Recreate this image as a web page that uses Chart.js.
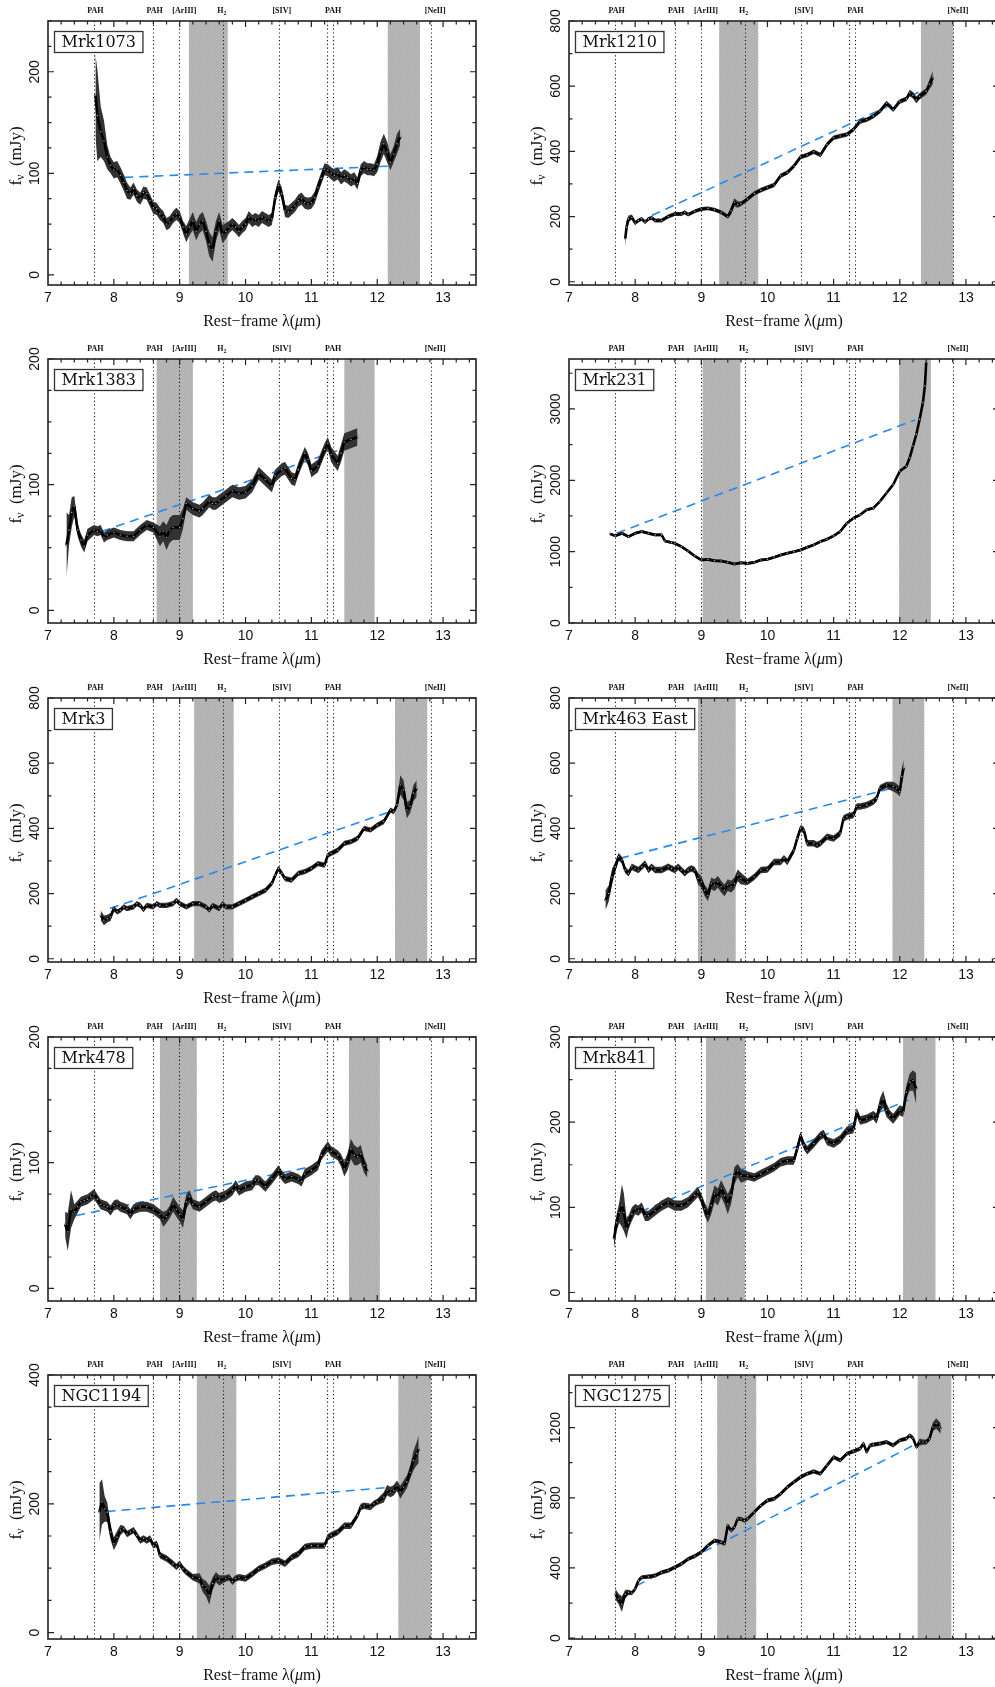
<!DOCTYPE html>
<html>
<head>
<meta charset="utf-8">
<script src="https://cdn.jsdelivr.net/npm/chart.js@4.4.1/dist/chart.umd.min.js"></script>
<style>
  html, body { margin: 0; padding: 0; background: #fff; overflow: hidden; }
  body { width: 995px; height: 1687px; position: relative; }
  canvas { position: absolute; }
</style>
</head>
<body>
<script>
// emission / PAH feature positions (micron) and their labels along the top
const lineWaves = [7.7, 8.6, 8.99, 9.66, 10.51, 11.23, 11.33, 12.81];
const lineLabels = ['PAH', 'PAH', '[ArIII]', 'H2', '[SIV]', 'PAH', '[NeII]'];
const lineLabelPos = [7.72, 8.62, 9.07, 9.64, 10.55, 11.33, 12.88];

// ---- Mrk1073
const mrk1073Wave = [7.72, 7.75, 7.8, 7.85, 7.9, 7.95, 8.0, 8.05, 8.1, 8.15, 8.2, 8.25, 8.3, 8.35, 8.4, 8.45, 8.5, 8.55, 8.6, 8.65,
  8.7, 8.75, 8.8, 8.85, 8.9, 8.95, 9.0, 9.05, 9.1, 9.15, 9.2, 9.25, 9.3, 9.35, 9.4, 9.45, 9.5, 9.55, 9.6, 9.65,
  9.7, 9.75, 9.8, 9.85, 9.9, 9.95, 10.0, 10.05, 10.1, 10.15, 10.2, 10.25, 10.3, 10.35, 10.4, 10.45, 10.5, 10.55, 10.6, 10.65,
  10.7, 10.75, 10.8, 10.85, 10.9, 10.95, 11.0, 11.05, 11.1, 11.15, 11.2, 11.25, 11.3, 11.35, 11.4, 11.45, 11.5, 11.55, 11.6, 11.65,
  11.7, 11.75, 11.8, 11.85, 11.9, 11.95, 12.0, 12.05, 12.1, 12.15, 12.2, 12.25, 12.3, 12.35];
const mrk1073Flux = [177, 157, 141, 132, 116, 108, 103, 104, 98, 91, 83, 80, 85, 78, 75, 81, 80, 73, 66, 65,
  60, 57, 50, 52, 57, 60, 57, 47, 40, 47, 53, 43, 50, 53, 43, 30, 25, 43, 53, 40,
  43, 47, 50, 47, 43, 47, 50, 57, 53, 55, 53, 57, 55, 53, 55, 76, 88, 80, 63, 62,
  65, 68, 73, 75, 71, 70, 71, 76, 86, 95, 104, 103, 100, 98, 100, 95, 98, 96, 93, 95,
  90, 103, 106, 104, 104, 103, 109, 121, 129, 121, 111, 119, 129, 136];
const mrk1073Err = [40, 45, 25, 20, 12, 8, 8, 8, 8, 8, 8,
  6, 6, 6, 6, 6, 6, 6, 6, 6, 6, 6, 6, 6, 6, 6, 6, 6,
  8, 8, 9, 9, 9, 9, 10, 12, 12, 10, 9, 9, 8,
  6, 6, 6, 6, 6, 6, 6, 6, 6, 6, 6, 6, 6, 6, 6, 6, 6, 6, 6, 6, 6, 6, 6, 6, 6, 6, 6, 6, 6, 6,
  6, 6, 6, 6, 6, 6, 6, 6, 6, 6, 6, 6, 6, 6, 6,
  8, 10, 10, 10, 8, 8, 10, 8];
const mrk1073Cont = [[8.16, 96], [12.16, 107]];
const mrk1073Bands = [[9.14, 9.73], [12.16, 12.65]];

// ---- Mrk1210
const mrk1210Wave = [7.85, 7.87, 7.9, 7.95, 8.0, 8.05, 8.1, 8.15, 8.2, 8.25, 8.3, 8.4, 8.5, 8.6, 8.7, 8.75, 8.8, 8.9, 9.0, 9.1,
  9.2, 9.3, 9.4, 9.45, 9.5, 9.55, 9.6, 9.7, 9.8, 9.9, 10.0, 10.1, 10.2, 10.3, 10.4, 10.5, 10.6, 10.7, 10.8, 10.9,
  11.0, 11.1, 11.2, 11.3, 11.4, 11.5, 11.6, 11.7, 11.8, 11.9, 12.0, 12.1, 12.15, 12.2, 12.25, 12.3, 12.4, 12.45, 12.5];
const mrk1210Flux = [132, 167, 193, 198, 180, 188, 193, 183, 193, 196, 188, 188, 200, 208, 208, 213, 206, 216, 223, 225,
  221, 213, 200, 218, 244, 237, 239, 254, 271, 281, 289, 297, 325, 335, 355, 383, 389, 399, 389, 421,
  442, 447, 452, 467, 492, 497, 508, 523, 548, 528, 553, 561, 579, 572, 558, 569, 584, 606, 626];
const mrk1210Err = [25, 20, 10, 8,
  6, 6, 6, 6, 6, 6, 6, 6, 6, 6, 6, 6, 6, 6, 6, 6, 6, 6, 6,
  12, 12, 10,
  7, 7, 7, 7, 7, 7, 7, 7, 7, 7, 7, 7, 7, 7, 7, 7, 7, 7, 7, 7, 7, 7, 7, 7, 7, 7,
  10, 10, 10, 10, 10, 15, 20];
const mrk1210Cont = [[8.25, 203], [12.33, 586]];
const mrk1210Bands = [[9.27, 9.86], [12.32, 12.81]];

// ---- Mrk1383
const mrk1383Wave = [7.28, 7.32, 7.36, 7.4, 7.45, 7.5, 7.55, 7.6, 7.7, 7.75, 7.8, 7.85, 7.9, 8.0, 8.1, 8.2, 8.3, 8.4, 8.5, 8.6,
  8.7, 8.75, 8.8, 8.85, 8.9, 9.0, 9.05, 9.1, 9.2, 9.3, 9.35, 9.45, 9.5, 9.55, 9.6, 9.7, 9.8, 9.9, 10.0, 10.1,
  10.2, 10.3, 10.4, 10.45, 10.55, 10.6, 10.7, 10.75, 10.8, 10.9, 10.95, 11.0, 11.1, 11.2, 11.25, 11.3, 11.4, 11.45, 11.5, 11.6, 11.7];
const mrk1383Flux = [52, 64, 78, 83, 64, 56, 51, 60, 64, 63, 64, 58, 60, 62, 60, 59, 59, 64, 68, 66,
  59, 63, 58, 64, 66, 66, 73, 85, 81, 79, 81, 87, 85, 85, 87, 91, 95, 93, 94, 99,
  109, 104, 99, 107, 112, 113, 105, 104, 112, 125, 120, 111, 115, 128, 133, 124, 117, 125, 134, 136, 138];
const mrk1383Err = [26, 12, 12, 8, 5, 5, 5, 5,
  4, 4, 4, 4, 4, 4, 4, 4, 4, 4, 4, 4,
  8, 8, 10, 10, 10, 10, 8,
  5, 5, 5, 5, 5, 5, 5, 5, 5, 5, 5, 5, 5, 5, 5, 5, 5, 5, 5, 5, 5, 5, 5, 5, 5, 5, 5, 5,
  6, 6, 7, 7, 7, 7];
const mrk1383Cont = [[7.6, 59], [11.5, 129]];
const mrk1383Bands = [[8.65, 9.2], [11.5, 11.96]];

// ---- Mrk231
const mrk231Wave = [7.62, 7.7, 7.8, 7.9, 8.0, 8.1, 8.2, 8.3, 8.4, 8.45, 8.55, 8.6, 8.7, 8.8, 8.9, 9.0, 9.1, 9.2, 9.3, 9.4,
  9.5, 9.6, 9.7, 9.8, 9.9, 10.0, 10.1, 10.2, 10.3, 10.4, 10.5, 10.6, 10.7, 10.8, 10.9, 11.0, 11.1, 11.2, 11.3, 11.4,
  11.5, 11.6, 11.7, 11.8, 11.9, 12.0, 12.1, 12.15, 12.2, 12.25, 12.3, 12.35, 12.38, 12.4];
const mrk231Flux = [1249, 1221, 1258, 1211, 1258, 1282, 1258, 1235, 1235, 1150, 1127, 1117, 1070, 1009, 939, 883, 892, 873, 869, 850,
  826, 845, 836, 850, 883, 892, 920, 953, 977, 1000, 1023, 1061, 1094, 1141, 1174, 1221, 1282, 1399, 1469, 1516,
  1587, 1610, 1704, 1822, 1939, 2127, 2197, 2315, 2479, 2643, 2854, 3089, 3324, 3653];
const mrk231Err = [20, 20, 20, 20, 20, 20, 20, 20, 20, 20, 20, 20, 20, 20, 20, 20, 20, 20, 20, 20,
  20, 20, 20, 20, 20, 20, 20, 20, 20, 20, 20, 20, 20, 20, 20, 20, 20, 20, 20, 20,
  20, 20, 20, 20, 20, 20, 20, 20, 20, 20, 40, 60, 80, 120];
const mrk231Cont = [[7.72, 1258], [12.23, 2845]];
const mrk231Bands = [[9.02, 9.59], [11.99, 12.47]];

// ---- Mrk3
const mrk3Wave = [7.8, 7.85, 7.9, 7.95, 8.0, 8.05, 8.1, 8.15, 8.2, 8.3, 8.35, 8.4, 8.45, 8.5, 8.6, 8.65, 8.7, 8.8, 8.9, 8.95,
  9.0, 9.1, 9.2, 9.3, 9.4, 9.45, 9.5, 9.6, 9.65, 9.7, 9.8, 9.9, 10.0, 10.1, 10.2, 10.3, 10.4, 10.45, 10.5, 10.55,
  10.6, 10.7, 10.8, 10.9, 11.0, 11.1, 11.2, 11.25, 11.3, 11.4, 11.5, 11.6, 11.7, 11.8, 11.9, 12.0, 12.1, 12.2, 12.25, 12.3,
  12.35, 12.4, 12.45, 12.5, 12.55, 12.6];
const mrk3Flux = [133, 118, 123, 128, 154, 144, 149, 159, 154, 159, 169, 164, 151, 164, 159, 169, 164, 164, 169, 179,
  169, 159, 169, 169, 159, 149, 164, 154, 169, 159, 159, 169, 179, 190, 200, 210, 231, 256, 277, 262,
  246, 241, 262, 267, 277, 292, 287, 318, 323, 333, 354, 359, 369, 400, 395, 410, 421, 456, 451, 472,
  533, 518, 456, 467, 508, 523];
const mrk3Err = [15, 15, 12, 12,
  8, 8, 8, 8, 8, 8, 8, 8, 8, 8, 8, 8, 8, 8, 8, 8, 8, 8, 8, 8, 8, 8, 8, 8,
  8, 8, 8, 8, 8, 8, 8, 8, 8, 8, 8, 8, 8, 8, 8, 8, 8, 8, 8, 8, 8, 8, 8, 8,
  8, 8, 8, 8, 8, 8, 8, 8,
  30, 30, 25, 20, 25, 25];
const mrk3Cont = [[7.94, 154], [12.19, 451]];
const mrk3Bands = [[9.22, 9.82], [12.27, 12.76]];

// ---- Mrk463 East
const mrk463Wave = [7.55, 7.6, 7.65, 7.7, 7.75, 7.8, 7.85, 7.9, 7.95, 8.0, 8.05, 8.1, 8.15, 8.2, 8.25, 8.3, 8.4, 8.5,
  8.55, 8.6, 8.65, 8.7, 8.75, 8.8, 8.85, 8.9, 8.95, 9.0, 9.05, 9.1, 9.15, 9.2, 9.25, 9.3, 9.35, 9.4, 9.45, 9.5, 9.55, 9.6,
  9.7, 9.8, 9.9, 10.0, 10.1, 10.2, 10.25, 10.3, 10.4, 10.45, 10.5, 10.55, 10.6, 10.7, 10.75, 10.8, 10.9, 11.0, 11.1, 11.15,
  11.2, 11.3, 11.35, 11.4, 11.5, 11.6, 11.65, 11.7, 11.8, 11.9, 11.95, 12.0, 12.03, 12.06];
const mrk463Flux = [179, 200, 251, 282, 313, 303, 272, 262, 282, 277, 272, 282, 292, 272, 282, 272, 272, 282,
  277, 272, 282, 272, 262, 272, 277, 272, 246, 236, 210, 195, 231, 226, 236, 221, 210, 226, 221, 231, 256, 246,
  236, 251, 272, 274, 297, 297, 308, 297, 333, 369, 400, 395, 354, 354, 349, 354, 374, 369, 385, 431,
  436, 441, 467, 467, 472, 482, 492, 523, 533, 528, 523, 513, 559, 585];
const mrk463Err = [30, 25, 25, 15, 12,
  10, 10, 10, 10, 10, 10, 10, 10, 10, 10, 10, 10, 10, 10, 10, 10, 10, 10, 10, 10, 10,
  18, 18, 18, 18, 18, 18, 18, 18, 18, 18, 18, 18, 18, 18,
  10, 10, 10, 10, 10, 10, 10, 10, 10, 10, 10, 10, 10, 10, 10, 10, 10, 10, 10, 10,
  10, 10, 10, 10, 10, 10, 10, 10, 10,
  15, 15, 15, 25, 25];
const mrk463Cont = [[7.77, 308], [11.9, 524]];
const mrk463Bands = [[8.95, 9.52], [11.89, 12.37]];

// ---- Mrk478
const mrk478Wave = [7.26, 7.3, 7.35, 7.4, 7.45, 7.5, 7.55, 7.6, 7.65, 7.7, 7.75, 7.8, 7.85, 7.9, 7.95, 8.0, 8.05, 8.1, 8.2, 8.25,
  8.3, 8.4, 8.5, 8.6, 8.7, 8.75, 8.8, 8.85, 8.9, 8.95, 9.0, 9.05, 9.1, 9.15, 9.2, 9.3, 9.4, 9.5, 9.55, 9.6,
  9.7, 9.8, 9.85, 9.9, 10.0, 10.1, 10.15, 10.2, 10.3, 10.4, 10.5, 10.55, 10.6, 10.7, 10.8, 10.85, 10.9, 11.0, 11.1, 11.15,
  11.25, 11.3, 11.4, 11.45, 11.5, 11.55, 11.6, 11.65, 11.7, 11.75, 11.8, 11.85];
const mrk478Flux = [51, 45, 63, 61, 65, 69, 70, 71, 73, 75, 71, 67, 66, 65, 62, 66, 67, 65, 63, 59,
  63, 65, 65, 63, 59, 55, 57, 61, 67, 63, 59, 55, 69, 73, 67, 65, 69, 73, 74, 72,
  74, 78, 82, 78, 81, 82, 86, 86, 81, 87, 94, 90, 87, 89, 87, 85, 91, 94, 98, 106,
  113, 109, 106, 102, 95, 101, 111, 106, 105, 107, 98, 93];
const mrk478Err = [10, 15, 15, 6, 5,
  4, 4, 4, 4, 4, 4, 4, 4, 4, 4, 4, 4, 4, 4, 4, 4, 4, 4, 4, 4,
  6, 5, 5, 6, 6, 6, 7, 6, 5,
  4, 4, 4, 4, 4, 4, 4, 4, 4, 4, 4, 4, 4, 4, 4, 4, 4, 4, 4, 4, 4, 4, 4, 4, 4, 4, 4, 4, 4,
  5, 6, 7, 8, 8, 7, 7, 6, 5];
const mrk478Cont = [[7.43, 58], [11.56, 103]];
const mrk478Bands = [[8.7, 9.26], [11.57, 12.04]];

// ---- Mrk841
const mrk841Wave = [7.68, 7.72, 7.76, 7.8, 7.83, 7.87, 7.9, 7.95, 8.0, 8.05, 8.1, 8.15, 8.2, 8.3, 8.4, 8.5, 8.6, 8.7, 8.8, 8.9,
  8.95, 9.0, 9.05, 9.1, 9.15, 9.2, 9.25, 9.3, 9.35, 9.4, 9.45, 9.5, 9.55, 9.6, 9.7, 9.8, 9.9, 10.0, 10.1, 10.2,
  10.3, 10.4, 10.45, 10.5, 10.55, 10.6, 10.7, 10.8, 10.85, 10.9, 11.0, 11.1, 11.2, 11.3, 11.35, 11.4, 11.5, 11.6, 11.65, 11.7,
  11.75, 11.8, 11.85, 11.9, 12.0, 12.05, 12.1, 12.15, 12.2, 12.25];
const mrk841Flux = [63, 82, 94, 102, 94, 75, 82, 92, 98, 96, 100, 90, 90, 96, 102, 106, 102, 102, 106, 114,
  118, 110, 98, 90, 102, 116, 112, 122, 114, 104, 114, 137, 143, 137, 137, 135, 139, 143, 147, 153,
  155, 155, 169, 184, 173, 167, 175, 184, 186, 178, 175, 180, 190, 192, 212, 202, 204, 208, 204, 220,
  227, 214, 208, 204, 214, 212, 235, 247, 249, 239];
const mrk841Err = [12, 10, 12, 25, 22, 12, 8, 8,
  6, 6, 6, 6, 6, 6, 6, 6, 6, 6, 6, 6, 6, 6,
  8, 8, 10, 10, 10, 10, 10, 12, 10, 10, 8, 8,
  5, 5, 5, 5, 5, 5, 5, 5, 5, 5, 5, 5, 5, 5, 5, 5, 5, 5, 5, 5, 5, 5, 5, 5,
  6, 8, 10, 8, 6, 6, 6, 6,
  8, 10, 12, 18];
const mrk841Cont = [[7.87, 88], [12.13, 226]];
const mrk841Bands = [[9.07, 9.66], [12.05, 12.54]];

// ---- NGC1194
const ngc1194Wave = [7.78, 7.82, 7.86, 7.9, 7.95, 8.0, 8.05, 8.1, 8.15, 8.2, 8.25, 8.3, 8.35, 8.4, 8.45, 8.5, 8.55, 8.6, 8.65, 8.7,
  8.8, 8.9, 8.95, 9.0, 9.05, 9.1, 9.2, 9.3, 9.35, 9.4, 9.45, 9.5, 9.55, 9.6, 9.7, 9.75, 9.8, 9.85, 9.9, 10.0,
  10.1, 10.2, 10.3, 10.4, 10.5, 10.6, 10.7, 10.8, 10.9, 11.0, 11.1, 11.2, 11.25, 11.3, 11.4, 11.5, 11.6, 11.7, 11.75, 11.8,
  11.9, 11.95, 12.0, 12.1, 12.15, 12.2, 12.25, 12.3, 12.35, 12.4, 12.45, 12.5, 12.55, 12.6, 12.63];
const ngc1194Flux = [187, 203, 192, 187, 156, 138, 148, 159, 161, 153, 156, 159, 151, 143, 146, 143, 146, 135, 138, 120,
  115, 107, 102, 107, 99, 94, 86, 84, 73, 68, 58, 76, 86, 81, 84, 86, 79, 84, 86, 84,
  91, 99, 104, 110, 112, 107, 117, 122, 133, 135, 135, 135, 148, 151, 156, 166, 166, 182, 195, 197,
  195, 200, 203, 210, 221, 218, 221, 228, 218, 226, 234, 249, 267, 278, 285];
const ngc1194Err = [45, 35, 20, 15, 12, 10, 10, 8,
  5, 5, 5, 5, 5, 5, 5, 5, 5, 5, 5, 5, 5, 5, 5, 5, 5, 5, 5,
  8, 10, 12, 15, 10, 8, 8,
  5, 5, 5, 5, 5, 5, 5, 5, 5, 5, 5, 5, 5, 5, 5, 5, 5, 5, 5, 5, 5, 5, 5, 5, 5, 5, 5, 5, 5,
  8, 8, 8, 8, 8, 10, 10, 10, 10,
  15, 18, 22];
const ngc1194Cont = [[7.89, 188], [12.34, 227]];
const ngc1194Bands = [[9.26, 9.86], [12.32, 12.82]];

// ---- NGC1275
const ngc1275Wave = [7.7, 7.75, 7.8, 7.85, 7.9, 7.95, 8.0, 8.05, 8.1, 8.2, 8.3, 8.4, 8.5, 8.6, 8.7, 8.8, 8.9, 9.0, 9.1, 9.2,
  9.3, 9.35, 9.4, 9.45, 9.5, 9.55, 9.6, 9.65, 9.7, 9.8, 9.9, 10.0, 10.1, 10.2, 10.3, 10.4, 10.5, 10.6, 10.7, 10.8,
  10.9, 11.0, 11.1, 11.2, 11.3, 11.4, 11.45, 11.5, 11.55, 11.6, 11.7, 11.8, 11.9, 12.0, 12.1, 12.15, 12.2, 12.25, 12.3, 12.35,
  12.4, 12.45, 12.5, 12.55, 12.6, 12.62];
const ngc1275Flux = [251, 223, 194, 251, 261, 257, 280, 328, 347, 350, 356, 375, 385, 404, 423, 451, 467, 490, 528, 556,
  547, 537, 642, 613, 632, 680, 680, 670, 680, 718, 756, 785, 794, 823, 861, 890, 918, 937, 950, 937,
  985, 1032, 1013, 1051, 1065, 1080, 1109, 1061, 1099, 1103, 1109, 1118, 1099, 1128, 1137, 1156, 1141, 1090, 1118, 1118,
  1118, 1137, 1204, 1223, 1204, 1194];
const ngc1275Err = [30, 30, 45, 25, 15, 12,
  12, 12, 12, 12, 12, 12, 12, 12, 12, 12, 12, 12, 12, 12, 12, 12, 12, 12, 12, 12,
  12, 12, 12, 12, 12, 12, 12, 12, 12, 12, 12, 12, 12, 12, 12, 12, 12, 12, 12, 12,
  12, 12, 12, 12, 12, 12, 12, 12, 12, 12, 12, 12,
  20, 15, 15, 15, 25, 30, 30, 30];
const ngc1275Cont = [[8.02, 299], [12.23, 1103]];
const ngc1275Bands = [[9.24, 9.83], [12.27, 12.78]];

const panels = [
  { name: 'Mrk1073', wave: mrk1073Wave, flux: mrk1073Flux, err: mrk1073Err, cont: mrk1073Cont, bands: mrk1073Bands, yMin: -10, yMax: 250, yMajor: 100, yMinor: 25 },
  { name: 'Mrk1210', wave: mrk1210Wave, flux: mrk1210Flux, err: mrk1210Err, cont: mrk1210Cont, bands: mrk1210Bands, yMin: -10, yMax: 800, yMajor: 200, yMinor: 100 },
  { name: 'Mrk1383', wave: mrk1383Wave, flux: mrk1383Flux, err: mrk1383Err, cont: mrk1383Cont, bands: mrk1383Bands, yMin: -10, yMax: 200, yMajor: 100, yMinor: 25 },
  { name: 'Mrk231', wave: mrk231Wave, flux: mrk231Flux, err: mrk231Err, cont: mrk231Cont, bands: mrk231Bands, yMin: 0, yMax: 3700, yMajor: 1000, yMinor: 500 },
  { name: 'Mrk3', wave: mrk3Wave, flux: mrk3Flux, err: mrk3Err, cont: mrk3Cont, bands: mrk3Bands, yMin: -10, yMax: 800, yMajor: 200, yMinor: 100 },
  { name: 'Mrk463 East', wave: mrk463Wave, flux: mrk463Flux, err: mrk463Err, cont: mrk463Cont, bands: mrk463Bands, yMin: -10, yMax: 800, yMajor: 200, yMinor: 100 },
  { name: 'Mrk478', wave: mrk478Wave, flux: mrk478Flux, err: mrk478Err, cont: mrk478Cont, bands: mrk478Bands, yMin: -10, yMax: 200, yMajor: 100, yMinor: 25 },
  { name: 'Mrk841', wave: mrk841Wave, flux: mrk841Flux, err: mrk841Err, cont: mrk841Cont, bands: mrk841Bands, yMin: -10, yMax: 300, yMajor: 100, yMinor: 50 },
  { name: 'NGC1194', wave: ngc1194Wave, flux: ngc1194Flux, err: ngc1194Err, cont: ngc1194Cont, bands: ngc1194Bands, yMin: -10, yMax: 400, yMajor: 200, yMinor: 50 },
  { name: 'NGC1275', wave: ngc1275Wave, flux: ngc1275Flux, err: ngc1275Err, cont: ngc1275Cont, bands: ngc1275Bands, yMin: -5, yMax: 1500, yMajor: 400, yMinor: 200 }
];

// grey hatched tile for the masked wavelength ranges
const hatchTile = document.createElement('canvas');
hatchTile.width = 3; hatchTile.height = 3;
(function () {
  const g = hatchTile.getContext('2d');
  g.fillStyle = '#b9b9b9';
  g.fillRect(0, 0, 3, 3);
  g.strokeStyle = '#a9a9a9';
  g.lineWidth = 1;
  g.beginPath(); g.moveTo(-1, 4); g.lineTo(4, -1); g.stroke();
})();

const SERIF = '"Liberation Serif", "Times New Roman", serif';
const SANS = '"Liberation Sans", Arial, sans-serif';

// draw pieces of text one after the other, [text, font, baseline shift]
function drawRuns(ctx, runs, x, y) {
  let cx = x;
  runs.forEach(([t, font, dy]) => {
    ctx.font = font;
    ctx.fillText(t, cx, y + (dy || 0));
    cx += ctx.measureText(t).width;
  });
}
function runsWidth(ctx, runs) {
  let w = 0;
  runs.forEach(([t, font]) => { ctx.font = font; w += ctx.measureText(t).width; });
  return w;
}

const panelDecor = {
  id: 'panelDecor',
  beforeDatasetsDraw(chart, args, o) {
    const { ctx, chartArea: a, scales: { x } } = chart;
    ctx.save();
    ctx.beginPath();
    ctx.rect(a.left, a.top, a.width, a.height);
    ctx.clip();
    ctx.fillStyle = ctx.createPattern(hatchTile, 'repeat');
    o.bands.forEach(([b0, b1]) => {
      const x0 = x.getPixelForValue(b0), x1 = x.getPixelForValue(b1);
      ctx.fillRect(x0, a.top, x1 - x0, a.height);
    });
    ctx.strokeStyle = '#1a1a1a';
    ctx.lineWidth = 1.1;
    ctx.setLineDash([1.2, 2.6]);
    lineWaves.forEach(w => {
      const px = Math.round(x.getPixelForValue(w)) + 0.5;
      ctx.beginPath();
      ctx.moveTo(px, a.top);
      ctx.lineTo(px, a.bottom);
      ctx.stroke();
    });
    ctx.restore();
  },
  afterDatasetsDraw(chart, args, o) {
    const { ctx, chartArea: a, scales: { x, y } } = chart;
    ctx.save();

    // frame and inward ticks on all four sides
    ctx.strokeStyle = '#222';
    ctx.lineWidth = 1.6;
    ctx.strokeRect(a.left, a.top, a.width, a.height);
    ctx.lineWidth = 1.2;
    ctx.beginPath();
    for (let k = 36; k < 68; k++) {
      const px = x.getPixelForValue(k / 5), len = k % 5 === 0 ? 6 : 3.5;
      ctx.moveTo(px, a.bottom); ctx.lineTo(px, a.bottom - len);
      ctx.moveTo(px, a.top); ctx.lineTo(px, a.top + len);
    }
    for (let k = Math.ceil(y.min / o.yMinor); k * o.yMinor <= y.max; k++) {
      const v = k * o.yMinor, py = y.getPixelForValue(v), len = v % o.yMajor === 0 ? 6 : 3.5;
      ctx.moveTo(a.left, py); ctx.lineTo(a.left + len, py);
      ctx.moveTo(a.right, py); ctx.lineTo(a.right - len, py);
    }
    ctx.stroke();

    // rotated y tick labels
    ctx.fillStyle = '#111';
    ctx.font = '14px ' + SANS;
    ctx.textAlign = 'center';
    ctx.textBaseline = 'middle';
    for (let v = Math.ceil(y.min / o.yMajor) * o.yMajor; v <= y.max; v += o.yMajor) {
      ctx.save();
      ctx.translate(a.left - 13, y.getPixelForValue(v));
      ctx.rotate(-Math.PI / 2);
      ctx.fillText(String(v), 0, 0);
      ctx.restore();
    }

    // feature labels above the frame
    ctx.textAlign = 'left';
    lineLabels.forEach((t, k) => {
      const cx = x.getPixelForValue(lineLabelPos[k]);
      const runs = t === 'H2'
        ? [['H', 'bold 8px ' + SERIF, 0], ['2', 'bold 6px ' + SERIF, 2.5]]
        : [[t, 'bold 8px ' + SERIF, 0]];
      drawRuns(ctx, runs, cx - runsWidth(ctx, runs) / 2, a.top - 10);
    });

    // x title
    const xRuns = [['Rest\u2212frame \u03bb(', '16px ' + SERIF, 0], ['\u03bc', 'italic 16px ' + SERIF, 0], ['m)', '16px ' + SERIF, 0]];
    drawRuns(ctx, xRuns, (a.left + a.right) / 2 - runsWidth(ctx, xRuns) / 2, a.bottom + 37);

    // y title, reading upward
    const yRuns = [['f', '17px ' + SERIF, 0], ['\u03bd', '12px ' + SERIF, 4], ['  (mJy)', '17px ' + SERIF, 0]];
    ctx.save();
    ctx.translate(a.left - 31, (a.top + a.bottom) / 2 + 3);
    ctx.rotate(-Math.PI / 2);
    drawRuns(ctx, yRuns, -runsWidth(ctx, yRuns) / 2, 0);
    ctx.restore();

    // object name box
    ctx.font = '16px "DejaVu Serif", serif';
    const tw = ctx.measureText(o.name).width;
    const bx = a.left + 6.5, by = a.top + 10.5, bw = tw + 14, bh = 21;
    ctx.fillStyle = '#fff';
    ctx.fillRect(bx, by, bw, bh);
    ctx.strokeStyle = '#333';
    ctx.lineWidth = 1.3;
    ctx.strokeRect(bx, by, bw, bh);
    ctx.fillStyle = '#111';
    ctx.fillText(o.name, bx + 7, by + bh / 2 + 1);

    ctx.restore();
  }
};

const colLeft = [0, 521];
const rowTop = [0, 338, 677, 1016, 1354];

panels.forEach((p, i) => {
  const cv = document.createElement('canvas');
  cv.width = 490;
  cv.height = 338;
  cv.style.left = colLeft[i % 2] + 'px';
  cv.style.top = rowTop[Math.floor(i / 2)] + 'px';
  document.body.appendChild(cv);

  const spec = p.wave.map((w, k) => ({ x: w, y: p.flux[k] }));
  const lo = p.wave.map((w, k) => ({ x: w, y: p.flux[k] - (p.err[k] || 0) }));
  const hi = p.wave.map((w, k) => ({ x: w, y: p.flux[k] + (p.err[k] || 0) }));
  const cont = p.cont.map(([w, f]) => ({ x: w, y: f }));

  new Chart(cv, {
    type: 'line',
    data: {
      datasets: [
        { data: spec, borderColor: '#000', borderWidth: 2.6, tension: 0, fill: false, borderJoinStyle: 'round',
          pointRadius: 0.8, pointBackgroundColor: '#eee', pointBorderColor: '#000', pointBorderWidth: 0.4 },
        { data: lo, borderWidth: 0, borderColor: 'rgba(0,0,0,0)', pointRadius: 0, fill: false },
        { data: hi, borderWidth: 0, borderColor: 'rgba(0,0,0,0)', pointRadius: 0, fill: '-1', backgroundColor: '#333' },
        { data: cont, borderColor: '#2289f2', borderWidth: 1.6, borderDash: [9, 6], pointRadius: 0, fill: false }
      ]
    },
    options: {
      responsive: false,
      animation: false,
      devicePixelRatio: 1,
      layout: { padding: { top: 21, right: i % 2 ? 12 : 14, left: 0, bottom: 0 } },
      plugins: {
        legend: { display: false },
        tooltip: { enabled: false },
        panelDecor: { name: p.name, bands: p.bands, yMajor: p.yMajor, yMinor: p.yMinor }
      },
      scales: {
        x: {
          type: 'linear', min: 7, max: 13.5,
          grid: { display: false, drawTicks: false },
          border: { display: false },
          ticks: { stepSize: 1, includeBounds: false, autoSkip: false, maxRotation: 0, padding: 5,
                   color: '#111', font: { family: 'Liberation Sans', size: 14 } },
          afterFit(s) { s.height = 53; }
        },
        y: {
          min: p.yMin, max: p.yMax,
          grid: { display: false, drawTicks: false },
          border: { display: false },
          ticks: { display: false },
          afterFit(s) { s.width = 48; }
        }
      }
    },
    plugins: [panelDecor]
  });
});
</script>
</body>
</html>
